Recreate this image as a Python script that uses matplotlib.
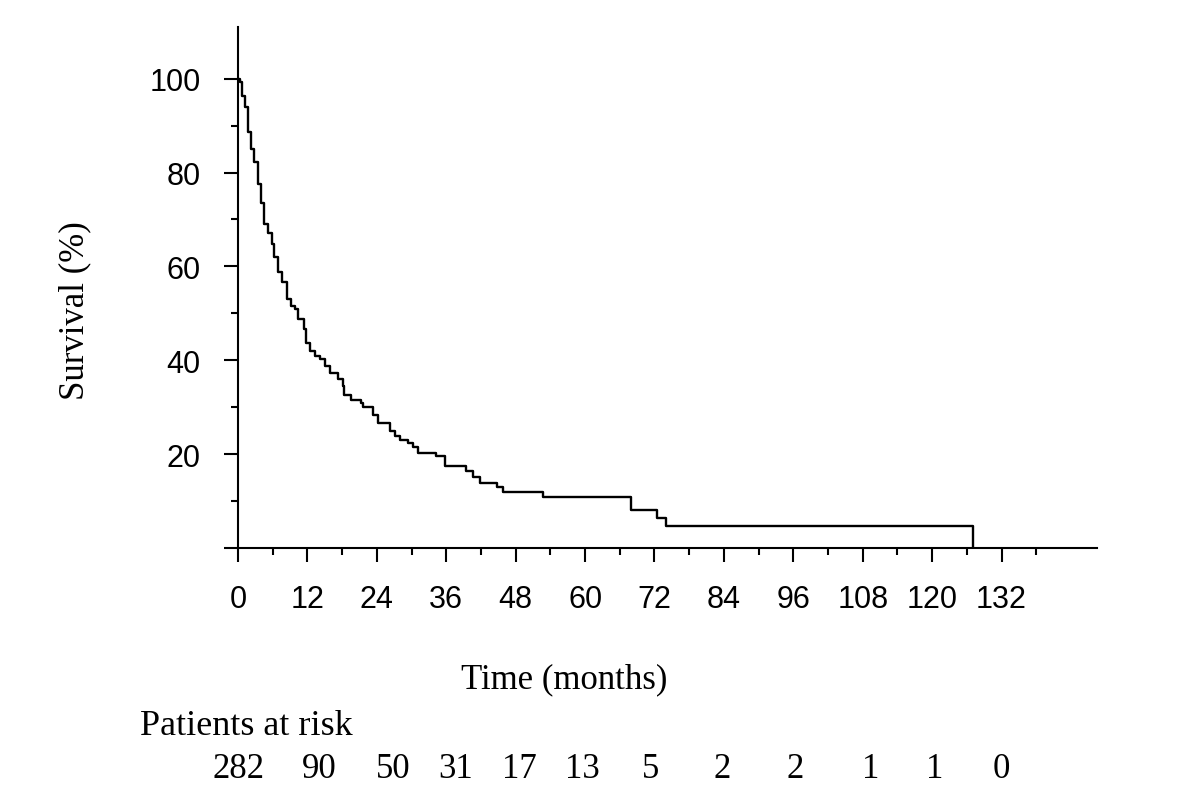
import numpy as np
import matplotlib.pyplot as plt

# Kaplan-Meier curve (months, survival %)
event_months = [0, 0.4, 0.7, 1.15, 1.7, 2.3, 2.8, 3.5, 4.0, 4.5, 5.2, 5.8, 6.3, 6.9,
                7.6, 8.4, 9.2, 9.8, 10.4, 11.4, 11.8, 12.4, 13.3, 14.1, 15.0, 15.9,
                17.3, 18.2, 18.4, 19.6, 21.3, 21.6, 23.3, 24.2, 26.2, 27.1, 28.0,
                29.4, 30.3, 31.1, 34.3, 35.7, 39.5, 40.6, 41.8, 44.7, 45.8, 52.7,
                68.0, 72.5, 74.0, 127.1]
survival = [100, 99.3, 96.2, 94.0, 88.6, 85.0, 82.2, 77.6, 73.6, 69.0, 67.2, 64.7,
            61.9, 58.7, 56.6, 53.0, 51.6, 50.9, 48.7, 46.6, 43.7, 41.9, 40.9, 40.2,
            38.7, 37.3, 35.9, 34.5, 32.7, 31.6, 30.9, 30.1, 28.4, 26.6, 24.9, 23.8,
            23.1, 22.4, 21.6, 20.2, 19.5, 17.4, 16.3, 15.2, 13.8, 13.1, 12.0, 10.9,
            8.1, 6.3, 4.6, 0]

x_ticks = list(range(0, 133, 12))
y_ticks = [20, 40, 60, 80, 100]
at_risk = [282, 90, 50, 31, 17, 13, 5, 2, 2, 1, 1, 0]
# where the at-risk numbers sit under the axis (months)
risk_label_x = [0, 14.0, 26.9, 37.6, 48.7, 59.6, 71.3, 83.7, 96.3, 109.3, 120.5, 132]

fig = plt.figure(figsize=(12, 8.12), dpi=100)
ax = fig.add_axes([238 / 1200, 1 - 549 / 812, 859 / 1200, 521 / 812])

ax.step(event_months, survival, where='post', color='black', lw=1.7)
ax.set_xlim(0, 148.5)
ax.set_ylim(0, 111)

for s in ['top', 'right']:
    ax.spines[s].set_visible(False)
for s in ['left', 'bottom']:
    ax.spines[s].set_linewidth(1.5)

ax.set_xticks(x_ticks)
ax.set_xticks(np.arange(6, 139, 12), minor=True)
ax.set_yticks([0] + y_ticks)
ax.set_yticklabels([''] + [str(v) for v in y_ticks])
ax.set_yticks(np.arange(10, 100, 20), minor=True)
ax.tick_params(which='major', length=10, width=1.5, labelsize=22, direction='out')
ax.tick_params(axis='x', which='major', pad=16)
ax.tick_params(axis='y', which='major', pad=17)
ax.tick_params(which='minor', length=5, width=1.5, direction='out')
for lab in ax.get_xticklabels() + ax.get_yticklabels():
    lab.set_family('Liberation Sans')

serif = 'Liberation Serif'
fig.text(75 / 1200, 1 - 311 / 812, 'Survival (%)', rotation=90, ha='center', va='center',
         fontsize=25, family=serif)
fig.text(564 / 1200, 1 - 688 / 812, 'Time (months)', ha='center', va='baseline',
         fontsize=25, family=serif)
fig.text(140 / 1200, 1 - 735 / 812, 'Patients at risk', ha='left', va='baseline',
         fontsize=26, family=serif)

for xp, n in zip(risk_label_x, at_risk):
    ax.annotate(str(n), xy=(xp, 0), xycoords=('data', 'axes fraction'),
                xytext=(0, -(778 - 549)), textcoords='offset pixels',
                ha='center', va='baseline', fontsize=25, family=serif,
                annotation_clip=False)

fig.savefig('out.png', dpi=100)
